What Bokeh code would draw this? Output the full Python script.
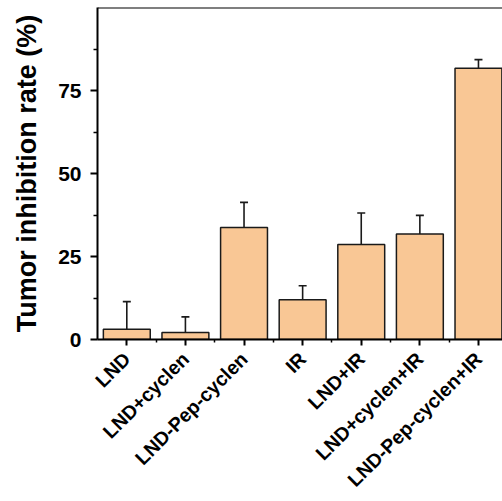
from math import pi
from bokeh.plotting import figure
from bokeh.models import (ColumnDataSource, Range1d, FixedTicker, Whisker, TeeHead, Span)
from bokeh.embed import file_html
from bokeh.resources import INLINE

groups = ["LND", "LND+cyclen", "LND-Pep-cyclen", "IR", "LND+IR",
          "LND+cyclen+IR", "LND-Pep-cyclen+IR"]
rate = [3.1, 2.1, 33.7, 12.0, 28.6, 31.8, 81.7]
err = [8.3, 4.7, 7.6, 4.2, 9.5, 5.6, 2.6]
y_ticks = [0, 25, 50, 75]
y_minor = [12.5, 37.5, 62.5, 87.5]

xs = list(range(len(groups)))
src = ColumnDataSource(dict(x=xs, top=rate,
                            upper=[r + e for r, e in zip(rate, err)]))

p = figure(width=502, height=501, output_backend="svg", toolbar_location=None,
           x_range=Range1d(-0.5, 6.41), y_range=Range1d(0, 100),
           min_border_left=97, min_border_right=0, min_border_top=7,
           min_border_bottom=162)
p.outline_line_color = None
p.xgrid.visible = False
p.ygrid.visible = False
p.background_fill_color = "white"
p.border_fill_color = "white"

w = Whisker(base="x", lower="top", upper="upper", source=src,
            line_color="#1a1a1a", line_width=1.6,
            upper_head=TeeHead(size=8, line_width=1.6, line_color="#1a1a1a"),
            lower_head=None)
p.add_layout(w)

p.vbar(x="x", top="top", width=0.8, bottom=0, source=src,
       fill_color="#F9C795", line_color="#1a1a1a", line_width=1.5)

p.add_layout(Span(location=100, dimension="width", line_color="black",
                  line_width=2))

ya = p.yaxis[0]
ya.ticker = FixedTicker(ticks=y_ticks, minor_ticks=y_minor)
ya.axis_label = "Tumor inhibition rate (%)"
ya.axis_label_text_font = "Liberation Sans"
ya.axis_label_text_font_style = "bold"
ya.axis_label_text_font_size = "27px"
ya.axis_label_text_color = "black"
ya.axis_label_standoff = 13
ya.major_label_text_font = "Liberation Sans"
ya.major_label_text_font_style = "bold"
ya.major_label_text_font_size = "21px"
ya.major_label_text_color = "black"
ya.major_label_standoff = 9
ya.axis_line_width = 2
ya.major_tick_line_width = 2
ya.minor_tick_line_width = 1.5
ya.major_tick_out = 7
ya.major_tick_in = 0
ya.minor_tick_out = 4
ya.minor_tick_in = 0

xa = p.xaxis[0]
xa.ticker = FixedTicker(ticks=xs, minor_ticks=[i + 0.5 for i in xs[:-1]])
xa.major_label_overrides = {i: g for i, g in zip(xs, groups)}
xa.major_label_orientation = pi / 4
xa.major_label_text_font = "Liberation Sans"
xa.major_label_text_font_style = "bold"
xa.major_label_text_font_size = "19.5px"
xa.major_label_text_color = "black"
xa.major_label_standoff = 10
xa.axis_line_width = 2
xa.major_tick_line_width = 2
xa.minor_tick_line_width = 1.5
xa.major_tick_out = 6
xa.major_tick_in = 0
xa.minor_tick_out = 3
xa.minor_tick_in = 0

open("out.html", "w").write(file_html(p, INLINE))
